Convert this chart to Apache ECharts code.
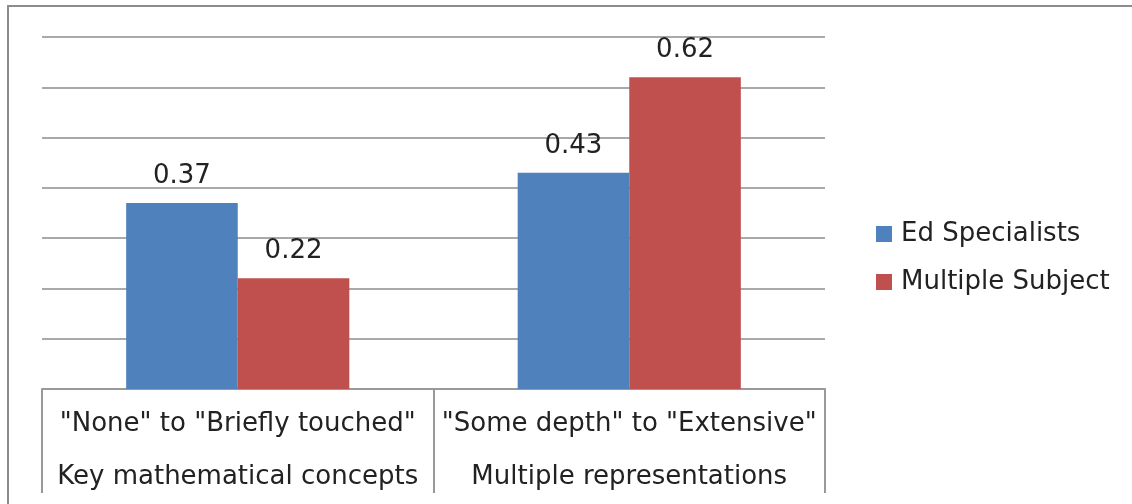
<!DOCTYPE html>
<html><head><meta charset="utf-8">
<script src="https://cdn.jsdelivr.net/npm/echarts@6/dist/echarts.min.js"></script>
<style>html,body{margin:0;padding:0;background:#fff}#c{width:1132px;height:504px}</style>
</head><body><div id="c"></div>
<script>
const categories = ['"None" to "Briefly touched"', '"Some depth" to "Extensive"'];
const groups = ['Key mathematical concepts', 'Multiple representations'];
const seriesNames = ['Ed Specialists', 'Multiple Subject'];
const edSpecialists = [0.37, 0.43];
const multipleSubject = [0.22, 0.62];
const colors = ['#4F81BD', '#C0504D'];

const FONT = '"DejaVu Sans", sans-serif';
const FS = 26;
const chart = echarts.init(document.getElementById('c'));
chart.setOption({
  animation: false,
  textStyle: { fontFamily: FONT },
  grid: { left: 42, right: 307, top: 37, bottom: 115 },
  legend: {
    orient: 'vertical', left: 876, top: 221, padding: 0, itemWidth: 16, itemHeight: 16, itemGap: 22,
    icon: 'rect', data: seriesNames,
    textStyle: { fontSize: FS, color: '#222', fontFamily: FONT, padding: [0, 0, 0, 4] }
  },
  xAxis: [{
    type: 'category', data: categories, position: 'bottom',
    axisLine: { lineStyle: { color: '#999', width: 2 } },
    axisTick: { show: true, interval: 0, length: 104, lineStyle: { color: '#999', width: 2 } },
    axisLabel: { interval: 0, margin: 22, fontSize: FS, color: '#222', fontFamily: FONT }
  }, {
    type: 'category', data: groups, position: 'bottom', offset: 53,
    axisLine: { show: false }, axisTick: { show: false },
    axisLabel: { interval: 0, margin: 22, fontSize: FS, color: '#222', fontFamily: FONT }
  }],
  yAxis: {
    type: 'value', min: 0, max: 0.7, interval: 0.1,
    axisLabel: { show: false }, axisLine: { show: false }, axisTick: { show: false },
    splitLine: { lineStyle: { color: '#8c8c8c', width: 1.5 } }
  },
  series: [{
    name: seriesNames[0], type: 'bar', data: edSpecialists, itemStyle: { color: colors[0] },
    barGap: '0%', barCategoryGap: '43%',
    label: { show: true, position: 'top', distance: 14, fontSize: FS, color: '#222', fontFamily: FONT }
  }, {
    name: seriesNames[1], type: 'bar', data: multipleSubject, itemStyle: { color: colors[1] },
    barGap: '0%', barCategoryGap: '43%',
    label: { show: true, position: 'top', distance: 14, fontSize: FS, color: '#222', fontFamily: FONT }
  }],
  graphic: [
    { type: 'line', shape: { x1: 7, y1: 6, x2: 1132, y2: 6 }, style: { stroke: '#8c8c8c', lineWidth: 2 } },
    { type: 'line', shape: { x1: 8, y1: 6, x2: 8, y2: 504 }, style: { stroke: '#8c8c8c', lineWidth: 2 } }
  ]
});
</script></body></html>
